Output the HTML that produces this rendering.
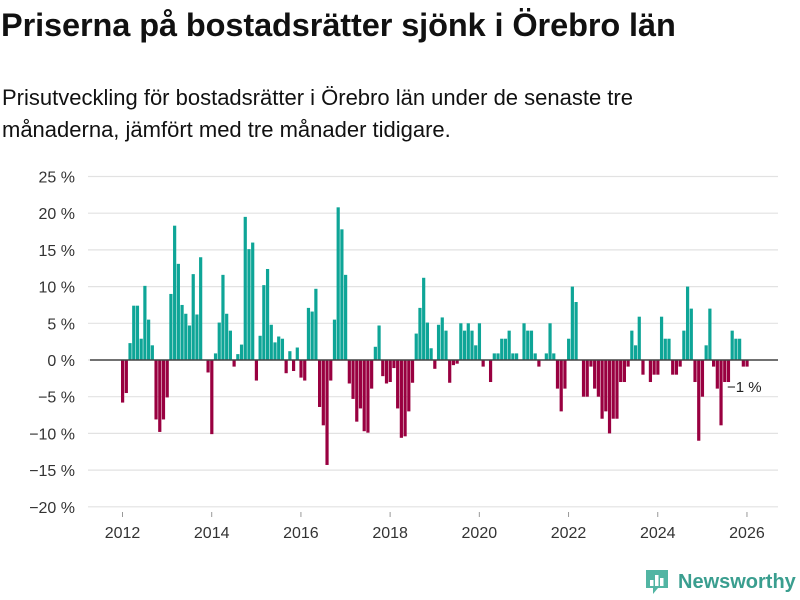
<!DOCTYPE html>
<html><head><meta charset="utf-8"><style>
body{margin:0;width:800px;height:600px;background:#fff;font-family:"Liberation Sans",sans-serif;color:#111;overflow:hidden;position:relative}
#title{position:absolute;left:1px;top:7px;font-size:32.5px;font-weight:bold;margin:0;letter-spacing:-0.1px;white-space:nowrap}
#sub{position:absolute;left:2px;top:82px;font-size:22px;line-height:32px;width:700px;margin:0}
svg{position:absolute;left:0;top:0}
</style></head><body>
<h1 id="title">Priserna på bostadsrätter sjönk i Örebro län</h1>
<p id="sub">Prisutveckling för bostadsrätter i Örebro län under de senaste tre månaderna, jämfört med tre månader tidigare.</p>
<svg id="chart" width="800" height="600"></svg>
<script>
const values=[-5.8,-4.5,2.3,7.4,7.4,2.9,10.1,5.5,2.0,-8.1,-9.8,-8.1,-5.1,9.0,18.3,13.1,7.5,6.3,4.7,11.7,6.2,14.0,0,-1.7,-10.1,0.9,5.1,11.6,6.3,4.0,-0.9,0.8,2.1,19.5,15.1,16.0,-2.8,3.3,10.2,12.4,4.8,2.4,3.2,2.9,-1.8,1.2,-1.5,1.7,-2.4,-2.8,7.1,6.6,9.7,-6.4,-8.9,-14.3,-2.8,5.5,20.8,17.8,11.6,-3.2,-5.3,-8.4,-6.6,-9.7,-9.9,-3.9,1.8,4.7,-2.2,-3.2,-3.0,-1.1,-6.6,-10.6,-10.4,-7.0,-3.1,3.6,7.1,11.2,5.1,1.6,-1.2,4.8,5.8,4.0,-3.1,-0.7,-0.5,5.0,4.0,5.0,4.0,2.0,5.0,-0.9,0,-3.0,0.9,0.9,2.9,2.9,4.0,0.9,0.9,0,5.0,4.0,4.0,0.9,-0.9,0,0.9,5.0,0.9,-3.9,-7.0,-3.9,2.9,10.0,7.9,0,-5.0,-5.0,-0.9,-3.9,-5.0,-8.0,-7.0,-10.0,-8.0,-8.0,-3.0,-3.0,-0.9,4.0,2.0,5.9,-2.0,0,-3.0,-2.0,-2.0,5.9,2.9,2.9,-2.0,-2.0,-0.9,4.0,10.0,7.0,-3.0,-11.0,-5.0,2.0,7.0,-0.9,-3.9,-8.9,-3.0,-3.0,4.0,2.9,2.9,-0.9,-0.9];
const yTicks=[25,20,15,10,5,0,-5,-10,-15,-20];
const xYears=[2012,2014,2016,2018,2020,2022,2024,2026];
const startYear=2012;
const lastLabel="−1 %";
const NS="http://www.w3.org/2000/svg";
const svg=document.getElementById('chart');
const x=k=>121+k*3.717;
const y=v=>360-v*7.34;
function mk(t,a){const e=document.createElementNS(NS,t);for(const k in a)e.setAttribute(k,a[k]);svg.appendChild(e);return e;}
yTicks.forEach(t=>{
  const g=mk('line',{x1:88,x2:778,y1:y(t),y2:y(t),stroke:'#e2e2e2','stroke-width':1.2});
  
  
  const l=mk('text',{x:75,y:y(t)+6,'text-anchor':'end','font-size':16,fill:'#333'});
  l.textContent=(t<0?'−'+(-t):t)+' %';
  
  
});
xYears.forEach(yr=>{
  const xx=x((yr-startYear)*12)+1.5;
  const tk=mk('line',{x1:xx,x2:xx,y1:512,y2:517,stroke:'#999'});
  
  
  const l=mk('text',{x:xx,y:538,'text-anchor':'middle','font-size':16,fill:'#333'});
  l.textContent=yr;
  
  
});
values.forEach((v,k)=>{
  if(v===0)return;
  const r=mk('rect',{x:x(k),width:3.2,y:Math.min(y(v),y(0)),height:Math.abs(y(v)-y(0)),fill:v>0?'#0ea597':'#990040'});
  
  
});
const z=mk('line',{x1:90,x2:778,y1:y(0),y2:y(0),stroke:'#444','stroke-width':1.6});


const ll=mk('text',{x:727,y:392,'font-size':15,fill:'#222'});
ll.textContent=lastLabel;


</script>
<div style="position:absolute;left:644px;top:568px;display:flex;align-items:center">
<svg width="26" height="28" style="position:static"><path d="M2 2h22v18h-10l-5 6v-6H2z" fill="#52b5a3"/><rect x="6" y="12" width="3.5" height="6" fill="#fff"/><rect x="11" y="7" width="3.5" height="11" fill="#fff"/><rect x="16" y="10" width="3.5" height="8" fill="#fff"/></svg>
<span style="margin-left:8px;font-size:20px;font-weight:bold;color:#3a9e8f">Newsworthy</span></div>
</body></html>
